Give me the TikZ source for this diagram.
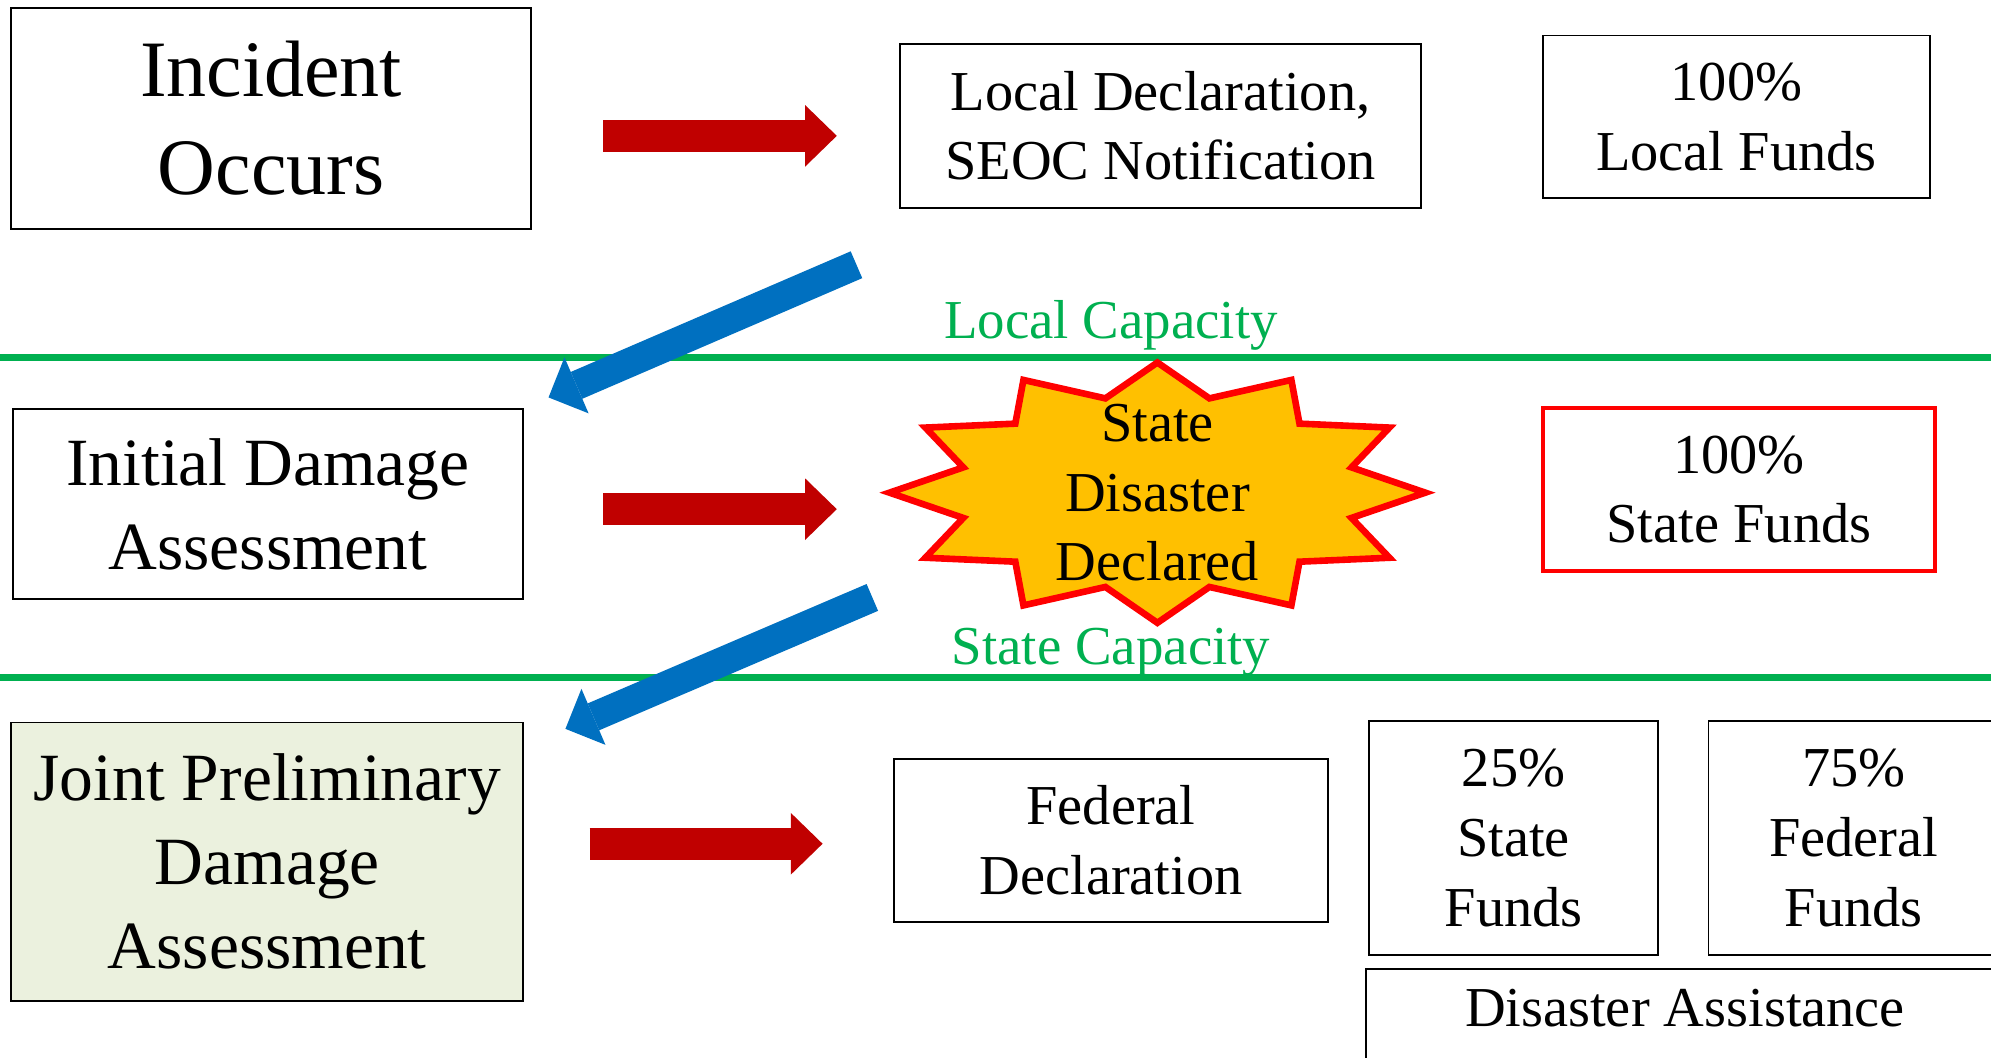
\documentclass[tikz,border=0pt]{standalone}
\usepackage{fontspec}
\setmainfont{Liberation Serif}
\usetikzlibrary{arrows.meta}
\definecolor{arrred}{HTML}{C00000}
\definecolor{arrblue}{HTML}{0070C0}
\definecolor{capgreen}{HTML}{00B050}
\definecolor{stargold}{HTML}{FFC000}
\definecolor{starred}{HTML}{FF0000}
\definecolor{jointfill}{HTML}{EBF1DE}
\begin{document}
\begin{tikzpicture}[x=0.5pt,y=-0.5pt,
  box/.style={draw=black, line width=0.75pt, inner sep=0pt, align=center, fill=white},
  bigtxt/.style={font=\fontsize{31.5pt}{38.7pt}\selectfont},
  midtxt/.style={font=\fontsize{26.6pt}{33pt}\selectfont},
  smtxt/.style={font=\fontsize{22.2pt}{27.5pt}\selectfont},
  captxt/.style={font=\fontsize{21.6pt}{26pt}\selectfont, text=capgreen, inner sep=0pt, anchor=base},
  redarrow/.style={draw=arrred, line width=12.5pt, line cap=butt,
    -{Triangle[length=12.5pt,width=24.3pt,line width=0pt]}},
  bluearrow/.style={draw=arrblue, line width=11.5pt, line cap=butt,
    -{Triangle[length=12pt,width=24pt,line width=0pt]}},
  capline/.style={draw=capgreen, line width=2.6pt}
]
\clip (0,0) rectangle (1568,833);
\fill[white] (0,0) rectangle (1568,833);

% capacity lines
\coordinate (l1a) at (0,281.7);
\coordinate (l1b) at (1568,281.7);
\coordinate (l2a) at (0,533.5);
\coordinate (l2b) at (1568,533.5);
\draw[capline] (l1a) -- (l1b);
\draw[capline] (l2a) -- (l2b);
\node[captxt] (lcap) at (875,266.5) {Local Capacity};
\node[captxt] (scap) at (875,523.7) {State Capacity};

% row 1
\node[box, bigtxt, minimum width=204.5pt, minimum height=87pt] (inc) at (213.5,93) {Incident\\Occurs};
\node[box, smtxt, minimum width=205pt, minimum height=64.5pt] (ldecl) at (914,99) {Local Declaration,\\SEOC Notification};
\node[box, smtxt, minimum width=152.5pt, minimum height=64pt] (lfund) at (1367.5,92) {100\%\\Local Funds};

% row 2
\node[box, midtxt, minimum width=201pt, minimum height=75pt] (ida) at (211,397) {Initial Damage\\Assessment};
\filldraw[draw=starred, fill=stargold, line width=2.6pt, line join=miter]
  plot[variable=\k, samples at={0,...,23}]
  ({911.5+211*(1-0.25*mod(\k,2))*cos(90-15*\k)}, {388-102.5*(1-0.25*mod(\k,2))*sin(90-15*\k)}) -- cycle;
\node[smtxt, align=center, inner sep=0pt] (sdd) at (911.5,388) {State\\Disaster\\Declared};
\node[box, smtxt, draw=starred, line width=1.6pt, minimum width=154.5pt, minimum height=64.5pt] (sfund) at (1369.5,385.5) {100\%\\State Funds};

% row 3
\node[box, midtxt, fill=jointfill, minimum width=201.5pt, minimum height=109.5pt] (jpda) at (210.5,678.5) {Joint Preliminary\\Damage\\Assessment};
\node[box, smtxt, minimum width=171pt, minimum height=64pt] (fed) at (875,662) {Federal\\Declaration};
\node[box, smtxt, minimum width=114pt, minimum height=92.25pt] (s25) at (1192,659.75) {25\%\\State\\Funds};
\node[box, smtxt, minimum width=114.5pt, minimum height=92.25pt] (f75) at (1460,659.75) {75\%\\Federal\\Funds};
\node[box, smtxt, anchor=north, minimum width=251pt, inner ysep=8pt, text depth=40pt] (da) at (1327,762.6) {Disaster Assistance};

% red arrows
\coordinate (r1s) at (475,107);
\coordinate (r1e) at (659,107);
\coordinate (r2s) at (475,401);
\coordinate (r2e) at (659,401);
\coordinate (r3s) at (464.3,664.5);
\coordinate (r3e) at (647.8,664.5);
\draw[redarrow] (r1s) -- (r1e);
\draw[redarrow] (r2s) -- (r2e);
\draw[redarrow] (r3s) -- (r3e);

% blue arrows
\coordinate (b1s) at (674.5,208.5);
\coordinate (b1e) at (432,313);
\coordinate (b2s) at (687,470.5);
\coordinate (b2e) at (445.3,574);
\draw[bluearrow] (b1s) -- (b1e);
\draw[bluearrow] (b2s) -- (b2e);
\end{tikzpicture}
\end{document}
